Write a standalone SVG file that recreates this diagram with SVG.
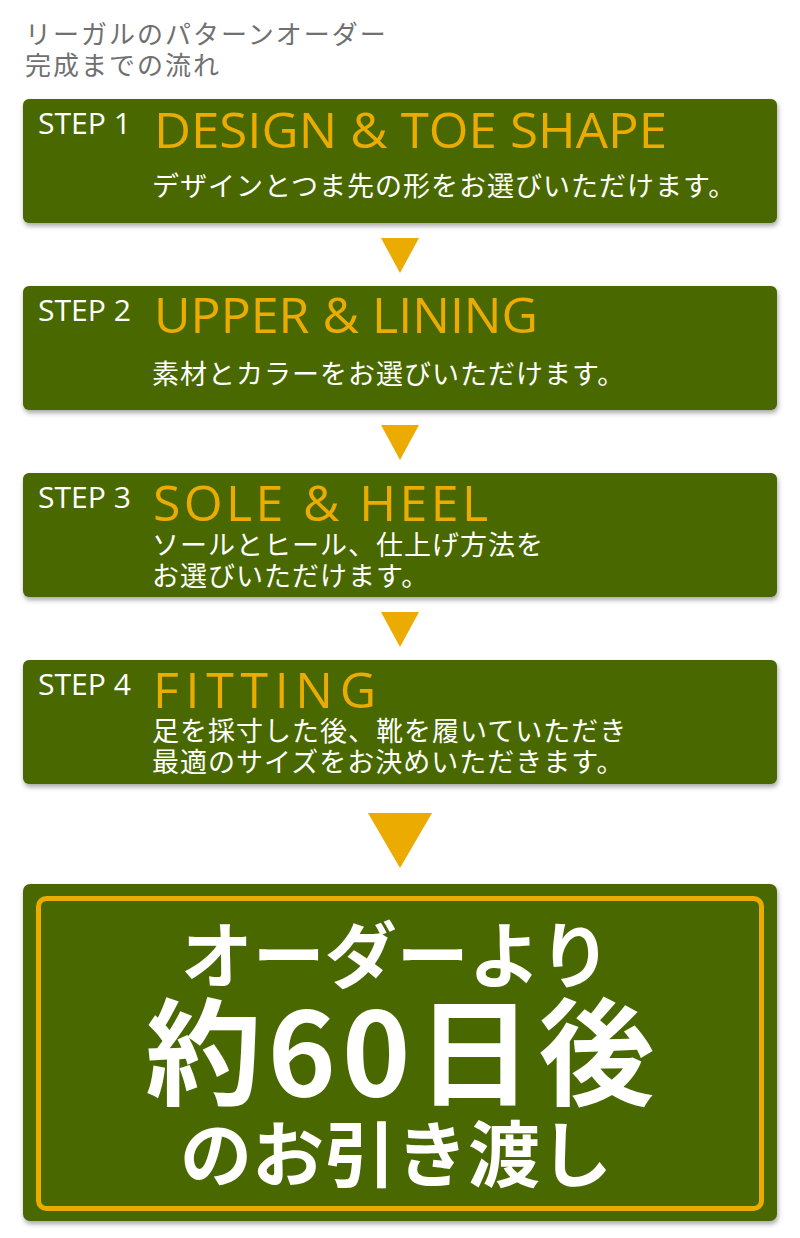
<svg xmlns="http://www.w3.org/2000/svg" width="800" height="1238" viewBox="0 0 800 1238">
<defs>
<filter id="sh" x="-5%" y="-10%" width="110%" height="130%">
<feDropShadow dx="1" dy="3" stdDeviation="2.5" flood-color="#000" flood-opacity="0.35"/>
</filter>
<style>
.box{fill:#4a6900;filter:url(#sh)}
.step{font-family:"Open Sans","Liberation Sans",sans-serif;font-size:30px;fill:#fff}
.ttl{font-family:"Open Sans","Liberation Sans",sans-serif;font-size:50px;fill:#ebab00}
.sub{font-family:"Noto Sans CJK JP",sans-serif;font-size:27px;fill:#fff;letter-spacing:1px}
.head{font-family:"Noto Sans CJK JP",sans-serif;font-size:26px;fill:#707070;letter-spacing:2px}
.arr{fill:#ebab00}
.big{font-family:"Noto Sans CJK JP",sans-serif;font-weight:bold;fill:#fff;text-anchor:middle}
</style>
</defs>
<rect width="800" height="1238" fill="#fff"/>
<g id="heading">
<text class="head" x="25" y="44">リーガルのパターンオーダー</text>
<text class="head" x="25" y="75">完成までの流れ</text>
</g>
<g id="connectors">
<polygon class="arr" points="381,238 419,238 400,273"/>
<polygon class="arr" points="381,425 419,425 400,460"/>
<polygon class="arr" points="381,612 419,612 400,647"/>
<polygon class="arr" points="368,813 432,813 400,868"/>
</g>
<g id="step1">
<rect class="box" x="23" y="99" width="754" height="124" rx="6"/>
<text class="step" x="38" y="134" textLength="93" lengthAdjust="spacingAndGlyphs">STEP 1</text>
<text class="ttl" x="154" y="148" textLength="513" lengthAdjust="spacingAndGlyphs">DESIGN &amp; TOE SHAPE</text>
<text class="sub" x="152" y="196">デザインとつま先の形をお選びいただけます。</text>
</g>
<g id="step2">
<rect class="box" x="23" y="286" width="754" height="124" rx="6"/>
<text class="step" x="38" y="321" textLength="93" lengthAdjust="spacingAndGlyphs">STEP 2</text>
<text class="ttl" x="154" y="333" textLength="384" lengthAdjust="spacingAndGlyphs">UPPER &amp; LINING</text>
<text class="sub" x="152" y="384">素材とカラーをお選びいただけます。</text>
</g>
<g id="step3">
<rect class="box" x="23" y="473" width="754" height="124" rx="6"/>
<text class="step" x="38" y="508" textLength="93" lengthAdjust="spacingAndGlyphs">STEP 3</text>
<text class="ttl" x="153" y="521" textLength="335" lengthAdjust="spacing">SOLE &amp; HEEL</text>
<text class="sub" x="152" y="555">ソールとヒール、仕上げ方法を</text>
<text class="sub" x="152" y="586">お選びいただけます。</text>
</g>
<g id="step4">
<rect class="box" x="23" y="660" width="754" height="124" rx="6"/>
<text class="step" x="38" y="695" textLength="93" lengthAdjust="spacingAndGlyphs">STEP 4</text>
<text class="ttl" x="153" y="708" textLength="223" lengthAdjust="spacing">FITTING</text>
<text class="sub" x="152" y="741">足を採寸した後、靴を履いていただき</text>
<text class="sub" x="152" y="772">最適のサイズをお決めいただきます。</text>
</g>
<g id="result">
<rect class="box" x="23" y="884" width="754" height="337" rx="7"/>
<rect x="38.5" y="898.5" width="723" height="310" rx="8" fill="none" stroke="#ebab00" stroke-width="5"/>
<text class="big" x="396" y="982" font-size="72">オーダーより</text>
<text class="big" x="403" y="1096" font-size="116" letter-spacing="6">約60日後</text>
<text class="big" x="396" y="1181" font-size="72">のお引き渡し</text>
</g>
</svg>
